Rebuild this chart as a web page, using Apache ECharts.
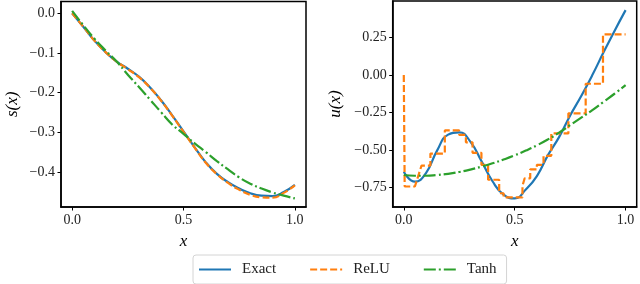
<!DOCTYPE html>
<html>
<head>
<meta charset="utf-8">
<script src="https://cdn.jsdelivr.net/npm/echarts@6/dist/echarts.min.js"></script>
<style>
html,body{margin:0;padding:0;background:#fff;}
#chart{width:640px;height:284px;}
</style>
</head>
<body>
<div id="chart"></div>
<script>
// ---- data ----
const xGrid = [0,0.05,0.1,0.15,0.2,0.25,0.3,0.35,0.4,0.45,0.5,0.55,0.6,0.65,0.7,0.75,0.8,0.85,0.9,0.95,1.0];
const sExact = [0,-0.034,-0.069,-0.098,-0.122,-0.140,-0.160,-0.187,-0.220,-0.258,-0.298,-0.338,-0.376,-0.405,-0.426,-0.442,-0.454,-0.460,-0.461,-0.451,-0.433];
const sRelu  = [0,-0.034,-0.069,-0.098,-0.122,-0.141,-0.161,-0.188,-0.221,-0.259,-0.299,-0.339,-0.377,-0.406,-0.428,-0.445,-0.458,-0.464,-0.465,-0.453,-0.434];
const sTanh  = [0.006,-0.030,-0.064,-0.094,-0.122,-0.155,-0.186,-0.218,-0.250,-0.281,-0.304,-0.328,-0.350,-0.373,-0.394,-0.414,-0.430,-0.442,-0.452,-0.460,-0.467];
const uExact = [-0.646,-0.713,-0.655,-0.505,-0.398,-0.383,-0.445,-0.575,-0.710,-0.800,-0.825,-0.765,-0.675,-0.535,-0.415,-0.270,-0.140,0.000,0.150,0.295,0.434];
const uTanh  = [-0.668,-0.673,-0.673,-0.668,-0.660,-0.648,-0.632,-0.612,-0.590,-0.565,-0.537,-0.505,-0.470,-0.430,-0.385,-0.335,-0.285,-0.235,-0.180,-0.125,-0.068];
const uReluX = [0,0.004,0.05,0.08,0.12,0.12,0.185,0.185,0.25,0.25,0.28,0.28,0.31,0.31,0.35,0.35,0.38,0.38,0.43,0.43,0.45,0.45,0.535,0.535,0.545,0.57,0.57,0.60,0.60,0.63,0.63,0.665,0.665,0.742,0.742,0.820,0.820,0.898,0.898,1.0];
const uReluY = [0,-0.745,-0.745,-0.605,-0.605,-0.525,-0.525,-0.37,-0.37,-0.40,-0.40,-0.45,-0.45,-0.52,-0.52,-0.60,-0.60,-0.70,-0.70,-0.79,-0.79,-0.818,-0.818,-0.74,-0.69,-0.69,-0.63,-0.63,-0.60,-0.60,-0.54,-0.54,-0.39,-0.39,-0.256,-0.256,-0.058,-0.058,0.272,0.272];
const xTicks = [0,0.5,1.0];
const sTicks = [0,-0.1,-0.2,-0.3,-0.4];
const uTicks = [-0.75,-0.5,-0.25,0,0.25];
const seriesNames = ['Exact','ReLU','Tanh'];
const colors = ['#1f77b4','#ff7f0e','#2ca02c'];

// ---- chart ----
const FONT = 'Liberation Serif';
const fmt = (d) => (v) => { const s = Math.abs(v).toFixed(d); return (v < -1e-9 ? '\u2212' : '') + s; };
const pairs = (xs, ys) => xs.map((x,i)=>[x, ys[i]]);

function xAxisCfg(idx){
  return {
    gridIndex: idx, type:'value', min:-0.05, max:1.05,
    name:'x', nameLocation:'middle', nameGap:26,
    nameTextStyle:{fontFamily:FONT, fontStyle:'italic', fontSize:17, color:'#000'},
    axisLine:{show:true, onZero:false, lineStyle:{color:'#000', width:1.5}},
    axisTick:{show:true, length:3.5, customValues:xTicks, lineStyle:{color:'#000', width:1}},
    axisLabel:{customValues:xTicks, formatter:fmt(1), fontFamily:FONT, fontSize:14, color:'#222', margin:6},
    splitLine:{show:false}
  };
}
function yAxisCfg(idx, min, max, ticks, dec, name, gap){
  return {
    gridIndex: idx, type:'value', min:min, max:max,
    name:name, nameLocation:'middle', nameGap:gap, nameRotate:90,
    nameTextStyle:{fontFamily:FONT, fontStyle:'italic', fontSize:17, color:'#000'},
    axisLine:{show:true, onZero:false, lineStyle:{color:'#000', width:1.5}},
    axisTick:{show:true, length:3.5, customValues:ticks, lineStyle:{color:'#000', width:1}},
    axisLabel:{customValues:ticks, formatter:fmt(dec), fontFamily:FONT, fontSize:14, color:'#222', margin:6},
    splitLine:{show:false}
  };
}
const dashRelu = [7,3];
const dashTanh = [12,3,2,3];
function line(name, data, xi, color, type, smooth){
  return {
    name:name, type:'line', xAxisIndex:xi, yAxisIndex:xi, data:data,
    showSymbol:false, symbol:'none', smooth:smooth, animation:false,
    lineStyle:{color:color, width:2.2, type:type}, itemStyle:{color:color}
  };
}

const chart = echarts.init(document.getElementById('chart'), null, {renderer:'canvas'});
chart.setOption({
  animation:false,
  color: colors,
  grid:[
    {left:61, top:1.5, width:245, height:205.5, show:true, borderColor:'#000', borderWidth:1.5, backgroundColor:'transparent'},
    {left:392.7, top:1, width:244, height:206, show:true, borderColor:'#000', borderWidth:1.5, backgroundColor:'transparent'}
  ],
  xAxis:[xAxisCfg(0), xAxisCfg(1)],
  yAxis:[
    yAxisCfg(0, -0.4886, 0.0296, sTicks, 1, 's(x)', 40),
    yAxisCfg(1, -0.882, 0.495, uTicks, 2, 'u(x)', 49)
  ],
  legend:{
    data:seriesNames, left:193, top:255,
    itemWidth:32, itemHeight:10, itemGap:33,
    padding:[7,10,7,5],
    itemStyle:{color:'rgba(0,0,0,0)', borderWidth:0, opacity:0},
    borderColor:'#d4d4d4', borderWidth:1, borderRadius:3,
    textStyle:{fontFamily:FONT, fontSize:15, color:'#222', padding:[0,0,0,6]}
  },
  series:[
    line(seriesNames[0], pairs(xGrid, sExact), 0, colors[0], 'solid', true),
    line(seriesNames[1], pairs(xGrid, sRelu), 0, colors[1], dashRelu, true),
    line(seriesNames[2], pairs(xGrid, sTanh), 0, colors[2], dashTanh, true),
    line(seriesNames[0], pairs(xGrid, uExact), 1, colors[0], 'solid', true),
    line(seriesNames[1], pairs(uReluX, uReluY), 1, colors[1], dashRelu, false),
    line(seriesNames[2], pairs(xGrid, uTanh), 1, colors[2], dashTanh, true)
  ]
});
</script>
</body>
</html>
